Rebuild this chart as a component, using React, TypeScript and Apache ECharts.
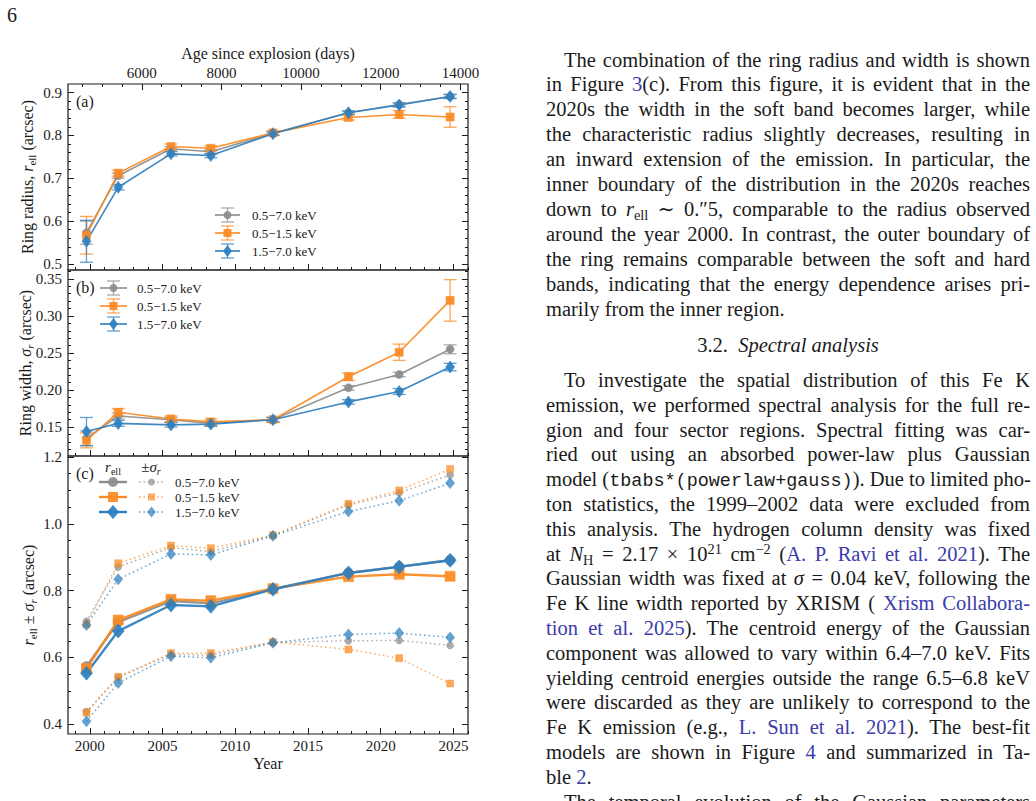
import React, { useEffect, useRef } from 'react';
import * as echarts from 'echarts';

// Chandra epochs (decimal year)
const epochs = [1999.77, 2001.95, 2005.58, 2008.32, 2012.59, 2017.78, 2021.27, 2024.77];
const bandLabels = ['0.5−7.0 keV', '0.5−1.5 keV', '1.5−7.0 keV'];

// ring radius r_ell (arcsec) and 1-sigma errors
const radiusBroad = [0.573, 0.706, 0.769, 0.762, 0.805, 0.853, 0.872, 0.891];
const radiusBroadErr = [0.027, 0.006, 0.005, 0.005, 0.004, 0.004, 0.004, 0.004];
const radiusSoft = [0.567, 0.712, 0.774, 0.770, 0.806, 0.842, 0.849, 0.843];
const radiusSoftErr = [0.044, 0.007, 0.006, 0.006, 0.005, 0.006, 0.009, 0.024];
const radiusHard = [0.553, 0.679, 0.757, 0.753, 0.804, 0.853, 0.871, 0.891];
const radiusHardErr = [0.049, 0.006, 0.005, 0.005, 0.004, 0.004, 0.005, 0.005];

// ring width sigma_r (arcsec) and 1-sigma errors
const widthBroad = [0.135, 0.165, 0.160, 0.155, 0.160, 0.203, 0.221, 0.255];
const widthBroadErr = [0.010, 0.004, 0.003, 0.003, 0.003, 0.003, 0.003, 0.006];
const widthSoft = [0.132, 0.170, 0.161, 0.157, 0.160, 0.218, 0.251, 0.321];
const widthSoftErr = [0.010, 0.005, 0.004, 0.004, 0.003, 0.005, 0.011, 0.028];
const widthHard = [0.144, 0.155, 0.153, 0.154, 0.160, 0.184, 0.198, 0.231];
const widthHardErr = [0.019, 0.004, 0.003, 0.003, 0.003, 0.003, 0.004, 0.005];

// ticks
const yearTicks = [2000, 2005, 2010, 2015, 2020, 2025];
const yearMinorTicks = [1999, 2001, 2002, 2003, 2004, 2006, 2007, 2008, 2009, 2011, 2012, 2013, 2014,
  2016, 2017, 2018, 2019, 2021, 2022, 2023, 2024, 2026];
const dayTicks = [6000, 8000, 10000, 12000, 14000];
const dayMinorTicks = [4500, 5000, 5500, 6500, 7000, 7500, 8500, 9000, 9500, 10500, 11000, 11500,
  12500, 13000, 13500];
const radiusTicks = [0.5, 0.6, 0.7, 0.8, 0.9];
const radiusMinorTicks = [0.52, 0.54, 0.56, 0.58, 0.62, 0.64, 0.66, 0.68, 0.72, 0.74, 0.76, 0.78,
  0.82, 0.84, 0.86, 0.88];
const widthTicks = [0.15, 0.2, 0.25, 0.3, 0.35];
const widthMinorTicks = [0.12, 0.13, 0.14, 0.16, 0.17, 0.18, 0.19, 0.21, 0.22, 0.23, 0.24,
  0.26, 0.27, 0.28, 0.29, 0.31, 0.32, 0.33, 0.34, 0.36];
const combinedTicks = [0.4, 0.6, 0.8, 1.0, 1.2];
const combinedMinorTicks = [0.45, 0.5, 0.55, 0.65, 0.7, 0.75, 0.85, 0.9, 0.95, 1.05, 1.1, 1.15];

const EXPLOSION = 1987.146; // SN 1987A, 1987 Feb 23
const DAYS_PER_YEAR = 365.25;
const X_MIN = 1998.5;
const X_MAX = 2026;

const INK = '#1a1a1a';
const LINK = '#3b3bab';
const SERIF = '"Liberation Serif", "DejaVu Serif", serif';
const GREY = '#8d8d8d';
const ORANGE = '#fb8a22';
const BLUE = '#2e7fbe';

const bands = [
  { label: bandLabels[0], color: GREY, symbol: 'circle', size: 8, big: 10, small: 7,
    r: radiusBroad, rErr: radiusBroadErr, w: widthBroad, wErr: widthBroadErr },
  { label: bandLabels[1], color: ORANGE, symbol: 'rect', size: 8, big: 10, small: 7,
    r: radiusSoft, rErr: radiusSoftErr, w: widthSoft, wErr: widthSoftErr },
  { label: bandLabels[2], color: BLUE, symbol: 'diamond', size: [9, 12], big: [12, 14], small: [9, 11],
    r: radiusHard, rErr: radiusHardErr, w: widthHard, wErr: widthHardErr },
];

const dayToYear = (d: number) => EXPLOSION + d / DAYS_PER_YEAR;

const tickAxis = (gridIndex: number, position: string, min: number, max: number,
  values: number[], length: number, label?: any) => ({
  type: 'value', gridIndex, position, min, max,
  axisLine: { show: false, onZero: false },
  splitLine: { show: false },
  axisTick: { show: true, inside: true, length, customValues: values, lineStyle: { color: INK, width: 1 } },
  axisLabel: label
    ? { show: true, customValues: values, fontFamily: SERIF, fontSize: 15, color: INK, ...label }
    : { show: false },
});

const nameStyle = {
  fontFamily: SERIF, fontSize: 16, color: INK, lineHeight: 20,
  rich: {
    i: { fontFamily: SERIF, fontSize: 16, fontStyle: 'italic', color: INK, lineHeight: 20 },
    s: { fontFamily: SERIF, fontSize: 11, color: INK, verticalAlign: 'bottom', lineHeight: 13 },
    si: { fontFamily: SERIF, fontSize: 11, fontStyle: 'italic', color: INK, verticalAlign: 'bottom', lineHeight: 13 },
  },
};

const panels = [
  { min: 0.486, max: 0.92, ticks: radiusTicks, minor: radiusMinorTicks, digits: 1, gap: 31,
    name: 'Ring radius, {i|r}{s|ell} (arcsec)' },
  { min: 0.111, max: 0.362, ticks: widthTicks, minor: widthMinorTicks, digits: 2, gap: 33,
    name: 'Ring width, {i|σ}{si|r} (arcsec)' },
  { min: 0.371, max: 1.203, ticks: combinedTicks, minor: combinedMinorTicks, digits: 1, gap: 30,
    name: '{i|r}{s|ell} ± {i|σ}{si|r} (arcsec)' },
];

const X_MAIN = [0, 4, 6];

const errorBars = (p: number, vals: number[], errs: number[], color: string) => ({
  type: 'custom',
  xAxisIndex: X_MAIN[p], yAxisIndex: p * 4,
  silent: true, z: 2,
  encode: { x: 0, y: [1, 2] },
  data: epochs.map((x, i) => [x, vals[i] - errs[i], vals[i] + errs[i]]),
  renderItem: (_params: any, api: any) => {
    const lo = api.coord([api.value(0), api.value(1)]);
    const hi = api.coord([api.value(0), api.value(2)]);
    const style = { stroke: color, lineWidth: 1.3, opacity: 0.75 };
    const cap = 6.5;
    return {
      type: 'group',
      children: [
        { type: 'line', shape: { x1: lo[0], y1: lo[1], x2: hi[0], y2: hi[1] }, style },
        { type: 'line', shape: { x1: lo[0] - cap, y1: lo[1], x2: lo[0] + cap, y2: lo[1] }, style },
        { type: 'line', shape: { x1: hi[0] - cap, y1: hi[1], x2: hi[0] + cap, y2: hi[1] }, style },
      ],
    };
  },
});

const lineSeries = (p: number, vals: number[], band: any, size: any, width: number,
  type: any = 'solid', opacity = 0.92) => ({
  type: 'line', name: band.label,
  xAxisIndex: X_MAIN[p], yAxisIndex: p * 4,
  silent: true, z: 3,
  data: epochs.map((x, i) => [x, vals[i]]),
  symbol: band.symbol, symbolSize: size, showSymbol: true,
  lineStyle: { color: band.color, width, type, opacity },
  itemStyle: { color: band.color, opacity, borderColor: band.color, borderWidth: 0.6 },
});

// legend helpers (graphic component)
const marker = (cx: number, cy: number, symbol: string, size: any, color: string, opacity = 0.92): any => {
  const style = { fill: color, opacity };
  if (symbol === 'circle') return { type: 'circle', shape: { cx, cy, r: size / 2 }, style };
  if (symbol === 'rect') return { type: 'rect', shape: { x: cx - size / 2, y: cy - size / 2, width: size, height: size }, style };
  const [w, h] = size;
  return { type: 'polygon', shape: { points: [[cx, cy - h / 2], [cx + w / 2, cy], [cx, cy + h / 2], [cx - w / 2, cy]] }, style };
};

const text = (x: number, y: number, t: string, size = 13, align = 'left', rich?: any): any => ({
  type: 'text', x, y, silent: true,
  style: {
    text: t, fontFamily: SERIF, fontSize: size, fill: INK,
    align, textAlign: align, verticalAlign: 'middle', textVerticalAlign: 'middle',
    ...(rich ? { rich } : {}),
  },
});

const errLegend = (x1: number, x2: number, ys: number[], tx: number) => {
  const els: any[] = [];
  bands.forEach((b, i) => {
    const y = ys[i];
    const cx = (x1 + x2) / 2;
    const s = { stroke: b.color, lineWidth: 1.3, opacity: 0.75 };
    els.push({ type: 'line', shape: { x1, y1: y, x2, y2: y }, style: { stroke: b.color, lineWidth: 1.6 } });
    els.push({ type: 'line', shape: { x1: cx, y1: y - 7, x2: cx, y2: y + 7 }, style: s });
    els.push({ type: 'line', shape: { x1: cx - 6.5, y1: y - 7, x2: cx + 6.5, y2: y - 7 }, style: s });
    els.push({ type: 'line', shape: { x1: cx - 6.5, y1: y + 7, x2: cx + 6.5, y2: y + 7 }, style: s });
    els.push(marker(cx, y, b.symbol, b.size, b.color));
    els.push(text(tx, y, b.label));
  });
  return els;
};

const smallRich = {
  i: { fontFamily: SERIF, fontSize: 15, fontStyle: 'italic', fill: INK, color: INK, lineHeight: 18 },
  s: { fontFamily: SERIF, fontSize: 10, fill: INK, color: INK, verticalAlign: 'bottom', lineHeight: 11 },
  si: { fontFamily: SERIF, fontSize: 10, fontStyle: 'italic', fill: INK, color: INK, verticalAlign: 'bottom', lineHeight: 11 },
};

const combinedLegend = () => {
  const els: any[] = [
    text(113, 467, '{i|r}{s|ell}', 15, 'center', smallRich),
    text(151, 467, '±{i|σ}{si|r}', 15, 'center', smallRich),
  ];
  const ys = [482, 497, 512];
  bands.forEach((b, i) => {
    const y = ys[i];
    els.push({ type: 'line', shape: { x1: 99, y1: y, x2: 127, y2: y }, style: { stroke: b.color, lineWidth: 2.4 } });
    els.push(marker(113, y, b.symbol, b.big, b.color));
    els.push({ type: 'line', shape: { x1: 139, y1: y, x2: 164, y2: y },
      style: { stroke: b.color, lineWidth: 1.5, lineDash: [1.5, 3], opacity: 0.75 } });
    els.push(marker(151.5, y, b.symbol, b.small, b.color, 0.7));
    els.push(text(175, y, b.label));
  });
  return els;
};

const buildOption = (): any => {
  const grid = [
    { left: 68, top: 84, width: 400, height: 186 },
    { left: 68, top: 270, width: 400, height: 186 },
    { left: 68, top: 456, width: 400, height: 278 },
  ].map((g) => ({ ...g, show: true, borderColor: INK, borderWidth: 1.2, backgroundColor: 'transparent' }));

  const xAxis = [
    tickAxis(0, 'bottom', X_MIN, X_MAX, yearTicks, 6),
    tickAxis(0, 'bottom', X_MIN, X_MAX, yearMinorTicks, 3),
    {
      ...tickAxis(0, 'top', X_MIN, X_MAX, dayTicks.map(dayToYear), 6, {
        margin: 4,
        formatter: (v: number) => String(Math.round(((v - EXPLOSION) * DAYS_PER_YEAR) / 10) * 10),
      }),
      name: 'Age since explosion (days)', nameLocation: 'middle', nameGap: 21, nameTextStyle: nameStyle,
    },
    tickAxis(0, 'top', X_MIN, X_MAX, dayMinorTicks.map(dayToYear), 3),
    tickAxis(1, 'bottom', X_MIN, X_MAX, yearTicks, 6),
    tickAxis(1, 'bottom', X_MIN, X_MAX, yearMinorTicks, 3),
    {
      ...tickAxis(2, 'bottom', X_MIN, X_MAX, yearTicks, 6, { margin: 4, formatter: (v: number) => String(v) }),
      name: 'Year', nameLocation: 'middle', nameGap: 19, nameTextStyle: nameStyle,
    },
    tickAxis(2, 'bottom', X_MIN, X_MAX, yearMinorTicks, 3),
  ];

  const yAxis: any[] = [];
  panels.forEach((p, gi) => {
    yAxis.push({
      ...tickAxis(gi, 'left', p.min, p.max, p.ticks, 6, {
        margin: 6, formatter: (v: number) => v.toFixed(p.digits),
      }),
      name: p.name, nameLocation: 'middle', nameRotate: 90, nameGap: p.gap,
      nameMoveOverlap: false, nameTextStyle: nameStyle,
    });
    yAxis.push(tickAxis(gi, 'left', p.min, p.max, p.minor, 3));
    yAxis.push(tickAxis(gi, 'right', p.min, p.max, p.ticks, 6));
    yAxis.push(tickAxis(gi, 'right', p.min, p.max, p.minor, 3));
  });

  const series: any[] = [];
  bands.forEach((b) => series.push(errorBars(0, b.r, b.rErr, b.color)));
  bands.forEach((b) => series.push(lineSeries(0, b.r, b, b.size, 1.6)));
  bands.forEach((b) => series.push(errorBars(1, b.w, b.wErr, b.color)));
  bands.forEach((b) => series.push(lineSeries(1, b.w, b, b.size, 1.6)));
  bands.forEach((b) => {
    const upper = b.r.map((v, i) => v + b.w[i]);
    const lower = b.r.map((v, i) => v - b.w[i]);
    series.push(lineSeries(2, upper, b, b.small, 1.5, [1.5, 3], 0.72));
    series.push(lineSeries(2, lower, b, b.small, 1.5, [1.5, 3], 0.72));
  });
  bands.forEach((b) => series.push(lineSeries(2, b.r, b, b.big, 2.4)));

  const graphic = [
    text(76, 101, '(a)', 16),
    text(76, 287, '(b)', 16),
    text(76, 473, '(c)', 16),
    ...errLegend(215, 240, [215, 233, 251], 252),
    ...errLegend(100, 127, [288, 306, 324], 137),
    ...combinedLegend(),
  ];

  return { animation: false, grid, xAxis, yAxis, series, graphic };
};

// right-hand column of the page
type Line = { y: number; mode: 'full' | 'indent' | 'last' | 'center'; content: React.ReactNode };

const A = ({ children }: { children: React.ReactNode }) => <span style={{ color: LINK }}>{children}</span>;
const Sub = ({ children }: { children: React.ReactNode }) => (
  <span style={{ fontSize: '0.7em', verticalAlign: '-0.3em', lineHeight: 0 }}>{children}</span>
);
const Sup = ({ children }: { children: React.ReactNode }) => (
  <span style={{ fontSize: '0.7em', verticalAlign: '0.5em', lineHeight: 0 }}>{children}</span>
);

const P1 = 60;
const P2 = 380.5;
const LS1 = 24.9;
const LS2 = 24.8;

const textLines: Line[] = [
  { y: P1, mode: 'indent', content: 'The combination of the ring radius and width is shown' },
  { y: P1 + LS1, mode: 'full', content: <>in Figure <A>3</A>(c). From this figure, it is evident that in the</> },
  { y: P1 + LS1 * 2, mode: 'full', content: '2020s the width in the soft band becomes larger, while' },
  { y: P1 + LS1 * 3, mode: 'full', content: 'the characteristic radius slightly decreases, resulting in' },
  { y: P1 + LS1 * 4, mode: 'full', content: 'an inward extension of the emission. In particular, the' },
  { y: P1 + LS1 * 5, mode: 'full', content: 'inner boundary of the distribution in the 2020s reaches' },
  { y: P1 + LS1 * 6, mode: 'full', content: <>down to <i>r</i><Sub>ell</Sub> ∼ 0.″5, comparable to the radius observed</> },
  { y: P1 + LS1 * 7, mode: 'full', content: 'around the year 2000. In contrast, the outer boundary of' },
  { y: P1 + LS1 * 8, mode: 'full', content: 'the ring remains comparable between the soft and hard' },
  { y: P1 + LS1 * 9, mode: 'full', content: 'bands, indicating that the energy dependence arises pri-' },
  { y: P1 + LS1 * 10, mode: 'last', content: 'marily from the inner region.' },
  { y: 345.7, mode: 'center', content: <>3.2.&nbsp;&nbsp;<i>Spectral analysis</i></> },
  { y: P2, mode: 'indent', content: 'To investigate the spatial distribution of this Fe K' },
  { y: P2 + LS2, mode: 'full', content: 'emission, we performed spectral analysis for the full re-' },
  { y: P2 + LS2 * 2, mode: 'full', content: 'gion and four sector regions. Spectral fitting was car-' },
  { y: P2 + LS2 * 3, mode: 'full', content: 'ried out using an absorbed power-law plus Gaussian' },
  { y: P2 + LS2 * 4, mode: 'full', content: <>model (<span style={{ fontFamily: '"Liberation Mono", "DejaVu Sans Mono", monospace', fontSize: '0.9em' }}>tbabs*(powerlaw+gauss)</span>). Due to limited pho-</> },
  { y: P2 + LS2 * 5, mode: 'full', content: 'ton statistics, the 1999–2002 data were excluded from' },
  { y: P2 + LS2 * 6, mode: 'full', content: 'this analysis. The hydrogen column density was fixed' },
  { y: P2 + LS2 * 7, mode: 'full', content: <>at <i>N</i><Sub>H</Sub> = 2.17 × 10<Sup>21</Sup> cm<Sup>−2</Sup> (<A>A. P. Ravi et al. 2021</A>). The</> },
  { y: P2 + LS2 * 8, mode: 'full', content: <>Gaussian width was fixed at <i>σ</i> = 0.04 keV, following the</> },
  { y: P2 + LS2 * 9, mode: 'full', content: <>Fe K line width reported by XRISM ( <A>Xrism Collabora-</A></> },
  { y: P2 + LS2 * 10, mode: 'full', content: <><A>tion et al. 2025</A>). The centroid energy of the Gaussian</> },
  { y: P2 + LS2 * 11, mode: 'full', content: 'component was allowed to vary within 6.4–7.0 keV. Fits' },
  { y: P2 + LS2 * 12, mode: 'full', content: 'yielding centroid energies outside the range 6.5–6.8 keV' },
  { y: P2 + LS2 * 13, mode: 'full', content: 'were discarded as they are unlikely to correspond to the' },
  { y: P2 + LS2 * 14, mode: 'full', content: <>Fe K emission (e.g., <A>L. Sun et al. 2021</A>). The best-fit</> },
  { y: P2 + LS2 * 15, mode: 'full', content: <>models are shown in Figure <A>4</A> and summarized in Ta-</> },
  { y: P2 + LS2 * 16, mode: 'last', content: <>ble <A>2</A>.</> },
  { y: P2 + LS2 * 17, mode: 'indent', content: 'The temporal evolution of the Gaussian parameters' },
];

const COL_LEFT = 546;
const COL_WIDTH = 484;
const INDENT = 18;

const TextLine = ({ line }: { line: Line }) => {
  const indent = line.mode === 'indent' ? INDENT : 0;
  const justify = line.mode === 'full' || line.mode === 'indent';
  const align = line.mode === 'center' ? 'center' : justify ? 'justify' : 'left';
  return (
    <div
      style={{
        position: 'absolute',
        top: line.y - 12.5,
        left: COL_LEFT + indent,
        width: COL_WIDTH - indent,
        height: 25,
        lineHeight: '25px',
        fontSize: 20.5,
        fontFamily: SERIF,
        color: INK,
        whiteSpace: 'nowrap',
        textAlign: align as any,
        textAlignLast: align as any,
      }}
    >
      {line.content}
    </div>
  );
};

const App = () => {
  const chartRef = useRef<HTMLDivElement>(null);

  useEffect(() => {
    if (!chartRef.current) return;
    const chart = echarts.init(chartRef.current, null, { renderer: 'svg' });
    chart.setOption(buildOption());
    return () => {
      chart.dispose();
    };
  }, []);

  return (
    <div style={{ position: 'fixed', left: 0, top: 0, width: 1036, height: 801, overflow: 'hidden', background: '#fff' }}>
      <div ref={chartRef} style={{ position: 'absolute', left: 0, top: 0, width: 530, height: 801 }} />
      <div style={{ position: 'absolute', left: 7, top: 4, fontFamily: SERIF, fontSize: 20, color: INK }}>6</div>
      {textLines.map((l, i) => (
        <TextLine key={i} line={l} />
      ))}
    </div>
  );
};

export default App;
